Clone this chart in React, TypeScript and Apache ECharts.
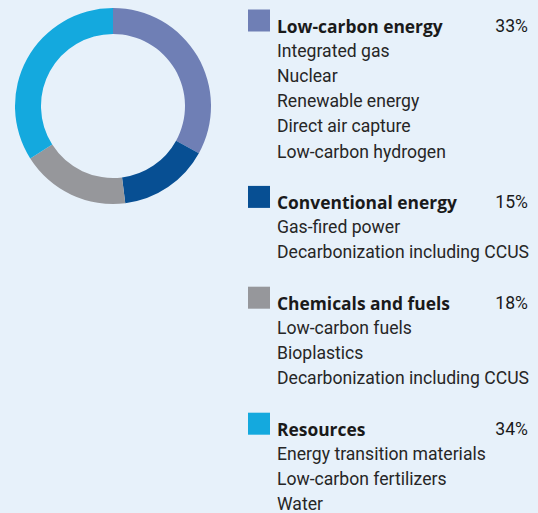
import React, { useEffect, useRef } from "react";
import * as echarts from "echarts";

const categories = ["Low-carbon energy", "Conventional energy", "Chemicals and fuels", "Resources"];
const shares = [33, 15, 18, 34];
const subItems = [
  ["Integrated gas", "Nuclear", "Renewable energy", "Direct air capture", "Low-carbon hydrogen"],
  ["Gas-fired power", "Decarbonization including CCUS"],
  ["Low-carbon fuels", "Bioplastics", "Decarbonization including CCUS"],
  ["Energy transition materials", "Low-carbon fertilizers", "Water"],
];
const colors = ["#6F7FB5", "#074F93", "#96979B", "#14A9DE"];

const FONT = "Roboto";
const BOLD_FONT = "'Open Sans'";

export default function App() {
  const ref = useRef<HTMLDivElement>(null);
  useEffect(() => {
    if (!ref.current) return;
    const chart = echarts.init(ref.current, null, { renderer: "svg" });
    const lineH = 25.2;
    const top = 25.5;
    const textX = 277;
    const rightX = 528;
    const elements: any[] = [];
    let line = 0;
    categories.forEach((cat, i) => {
      const y = top + line * lineH;
      elements.push({
        type: "rect",
        shape: { x: 248, y: y - 16, width: 22, height: 22 },
        style: { fill: colors[i] },
      });
      elements.push({
        type: "text",
        x: textX,
        y,
        style: { text: cat, font: `bold 17.4px ${BOLD_FONT}`, fill: "#1a1a1a", verticalAlign: "middle", align: "left" },
      });
      elements.push({
        type: "text",
        x: rightX,
        y,
        style: { text: shares[i] + "%", font: `17.6px ${FONT}`, fill: "#1a1a1a", verticalAlign: "middle", align: "right" },
      });
      line++;
      subItems[i].forEach((s) => {
        elements.push({
          type: "text",
          x: textX,
          y: top + line * lineH,
          style: { text: s, font: `17.6px ${FONT}`, fill: "#262626", verticalAlign: "middle", align: "left" },
        });
        line++;
      });
      line++;
    });
    chart.setOption({
      animation: false,
      backgroundColor: "#E7F1FA",
      series: [
        {
          type: "pie",
          center: [113, 106],
          radius: [72, 98],
          startAngle: 90,
          clockwise: true,
          label: { show: false },
          labelLine: { show: false },
          silent: true,
          data: categories.map((c, i) => ({ name: c, value: shares[i], itemStyle: { color: colors[i] } })),
        },
      ],
      graphic: elements,
    });
    return () => chart.dispose();
  }, []);
  return <div ref={ref} style={{ position: "fixed", left: 0, top: 0, width: 538, height: 513 }} />;
}
